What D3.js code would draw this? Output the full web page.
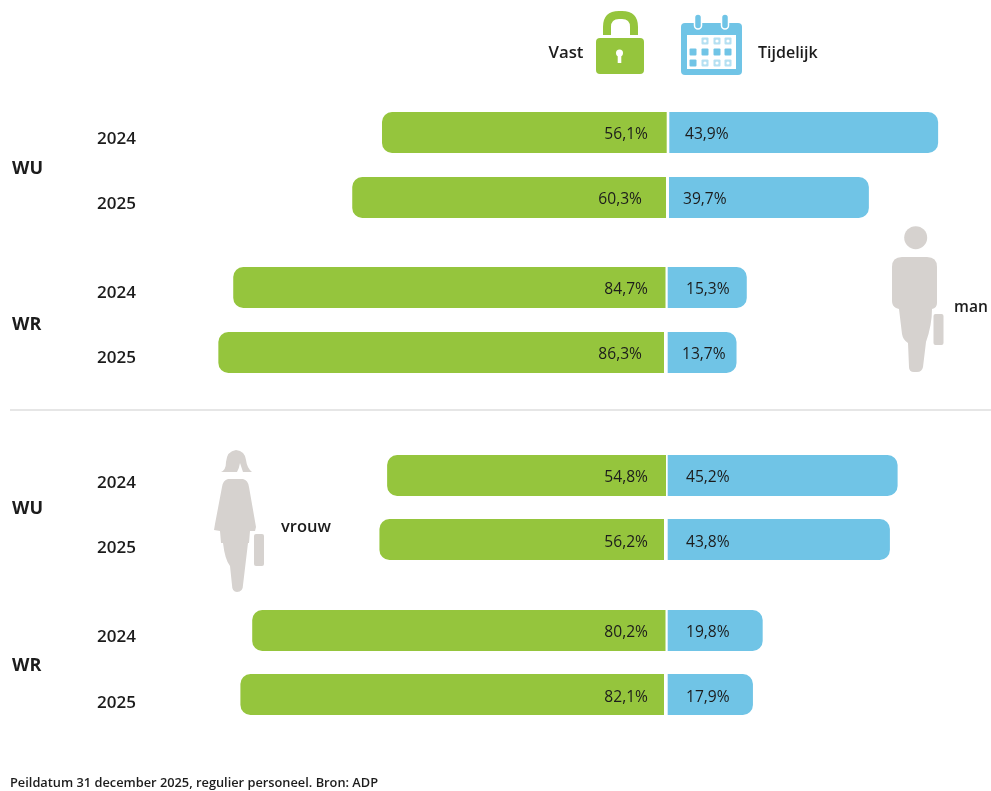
<!DOCTYPE html>
<html lang="nl">
<head>
<meta charset="utf-8">
<script src="https://cdn.jsdelivr.net/npm/d3@7"></script>
<style>
html,body{margin:0;padding:0;background:#fff;overflow:hidden}
svg{display:block;filter:blur(0.45px)}
text{font-family:"Open Sans","Noto Sans",sans-serif;fill:#1c1c1c}
</style>
</head>
<body>
<svg id="chart" width="991" height="791"></svg>
<script>
// Printed values
const rows = ["man-WU-2024","man-WU-2025","man-WR-2024","man-WR-2025","vrouw-WU-2024","vrouw-WU-2025","vrouw-WR-2024","vrouw-WR-2025"];
const years = ["2024","2025","2024","2025","2024","2025","2024","2025"];
const vastValues = [56.1,60.3,84.7,86.3,54.8,56.2,80.2,82.1];
const tijdelijkValues = [43.9,39.7,15.3,13.7,45.2,43.8,19.8,17.9];
// Bar lengths, in the same percent units; they differ
// from the printed values (the first blue bar is visibly longer than its 43,9%).
const vastLengths = [55.4,61.2,84.4,87.3,54.4,55.9,80.7,83.0];
const tijdelijkLengths = [52.5,39.0,15.2,13.2,44.6,43.1,18.3,16.4];
const groups = ["WU","WR","WU","WR"];
const footer = "Peildatum 31 december 2025, regulier personeel. Bron: ADP";

const svg = d3.select("#chart");
const GREEN="#95c53d", BLUE="#70c4e6", GREY="#d6d2cf";

const pxPerPct = 5.13, centre = 667.5, gap = 1.3;
const lenScale = d3.scaleLinear().domain([0,100]).range([0,100*pxPerPct]);
const rowTop = d3.scaleOrdinal().domain(rows).range([112,177,267,332,455,519,610,674]);
const yearBase = d3.scaleOrdinal().domain(rows).range([144,209,298,363,488,553,642,708]);
const labelBase = d3.scaleOrdinal().domain(rows).range([139,204,294,359,482,547,637,702]);
const seamGreen = d3.scaleOrdinal().domain(rows).range([666.7,666,665.5,664,666,664,665.5,664]);
const seamBlue = d3.scaleOrdinal().domain(rows).range([669.3,669,667.7,667.7,667.7,667.7,667.7,667.7]);
const vastLabelEnd = d3.scaleOrdinal().domain(rows).range([648,642,648,642,648,648,648,648]);
const tijdLabelStart = d3.scaleOrdinal().domain(rows).range([685,683,686,682,686,686,686,686]);
const barH = 41, r = 10;

// path with rounded corners only on the outer side
function outerRounded(x0,x1,y,h,side){
  const p=d3.path();
  if(side<0){
    p.moveTo(x1,y);p.lineTo(x0+r,y);p.arcTo(x0,y,x0,y+r,r);p.lineTo(x0,y+h-r);p.arcTo(x0,y+h,x0+r,y+h,r);p.lineTo(x1,y+h);
  }else{
    p.moveTo(x0,y);p.lineTo(x1-r,y);p.arcTo(x1,y,x1,y+r,r);p.lineTo(x1,y+h-r);p.arcTo(x1,y+h,x1-r,y+h,r);p.lineTo(x0,y+h);
  }
  p.closePath();return p.toString();
}

const data = rows.map((k,i)=>({k,year:years[i],vast:vastValues[i],tijd:tijdelijkValues[i],vl:vastLengths[i],tl:tijdelijkLengths[i]}));
const fmt = v => d3.format(".1f")(v).replace(".",",")+"%";

const g = svg.selectAll("g.row").data(data).join("g").attr("class","row");
g.append("path").attr("fill",GREEN).attr("d",d=>outerRounded(centre-gap-lenScale(d.vl),seamGreen(d.k),rowTop(d.k),barH,-1));
g.append("path").attr("fill",BLUE).attr("d",d=>outerRounded(seamBlue(d.k),centre+gap+lenScale(d.tl),rowTop(d.k),barH,1));
g.append("text").attr("x",d=>vastLabelEnd(d.k)).attr("y",d=>labelBase(d.k)).attr("text-anchor","end").attr("font-size",15.6).attr("font-weight",500).text(d=>fmt(d.vast));
g.append("text").attr("x",d=>tijdLabelStart(d.k)).attr("y",d=>labelBase(d.k)).attr("font-size",15.6).attr("font-weight",500).text(d=>fmt(d.tijd));
g.append("text").attr("x",97).attr("y",d=>yearBase(d.k)).attr("font-size",17).attr("font-weight",600).text(d=>d.year);

// Group labels
const groupY = d3.scaleOrdinal().domain([0,1,2,3]).range([174,330,514,671]);
svg.selectAll("text.grp").data(groups).join("text").attr("class","grp")
  .attr("x",12).attr("y",(d,i)=>groupY(i)).attr("font-size",18).attr("font-weight",700).text(d=>d);

// Separator
svg.append("line").attr("x1",10).attr("x2",991).attr("y1",410).attr("y2",410).attr("stroke","#e6e6e6").attr("stroke-width",2);

// Legend labels
svg.append("text").attr("x",548.5).attr("y",58).attr("font-size",16.8).attr("font-weight",600).text("Vast");
svg.append("text").attr("x",758).attr("y",58).attr("font-size",16).attr("font-weight",600).text("Tijdelijk");

// Lock icon
const lock = svg.append("g");
lock.append("path").attr("fill","none").attr("stroke",GREEN).attr("stroke-width",8)
  .attr("d","M607,35V27Q607,15 619,15H622Q634,15 634,27V35");
lock.append("rect").attr("x",596).attr("y",38).attr("width",48).attr("height",36).attr("rx",4).attr("fill",GREEN);
lock.append("circle").attr("cx",619.5).attr("cy",53).attr("r",3.5).attr("fill","#fff");
lock.append("rect").attr("x",617.7).attr("y",53).attr("width",3.6).attr("height",10).attr("fill","#fff");

// Calendar icon
const cal = svg.append("g");
cal.append("rect").attr("x",681).attr("y",23).attr("width",61).attr("height",52).attr("rx",4).attr("fill",BLUE);
cal.append("rect").attr("x",687).attr("y",35).attr("width",49).attr("height",34).attr("fill","#fff");
[698,725].forEach(x=>{
  cal.append("rect").attr("x",x-3.5).attr("y",14).attr("width",7).attr("height",15).attr("rx",3.5).attr("fill",BLUE).attr("stroke","#fff").attr("stroke-width",1.5);
});
const cols=[693,705,717,728], calRows=[41,52,63];
const cellFill=[[null,"#b5e0f2","#b5e0f2","#b5e0f2"],[BLUE,BLUE,BLUE,BLUE],[BLUE,"#b5e0f2","#b5e0f2","#b5e0f2"]];
calRows.forEach((y,ri)=>cols.forEach((x,ci)=>{
  const f=cellFill[ri][ci]; if(!f) return;
  cal.append("rect").attr("x",x-3.5).attr("y",y-3.5).attr("width",7).attr("height",7).attr("rx",1).attr("fill",f);
  if(f!==BLUE) cal.append("circle").attr("cx",x).attr("cy",y).attr("r",1.6).attr("fill","#fff");
}));

// Man figure
const man = svg.append("g").attr("fill",GREY);
man.append("circle").attr("cx",915.7).attr("cy",237.7).attr("r",11.5);
man.append("path").attr("d","M902,257H927Q937,257 937,267V303Q937,308 932,309L932,309Q932,325 926,342L923,367Q922,372 917,372H914Q909,372 909,367L908,343Q903,340 902,334L899,309L896,308Q892,306 892,301V267Q892,257 902,257Z");
man.append("rect").attr("x",933.5).attr("y",314).attr("width",10).attr("height",31).attr("rx",2);
svg.append("text").attr("x",954).attr("y",312).attr("font-size",15.6).attr("font-weight",600).text("man");

// Woman figure
const wom = svg.append("g").attr("fill",GREY);
wom.append("path").attr("d","M221,472Q226,470 226,462Q227,451 236,450Q245,451 246,460Q247,468 252,472H243Q241,466 240,463Q239,469 237,472Z");
wom.append("path").attr("d","M228,479H243Q248,480 249,487L256,527L255,531L250,531L249,543L248,543L243,585Q243,592 237,592Q232,592 232,585L230,566Q225,560 223,543H221L220,531L214,530L215,524L222,487Q223,480 228,479Z");
wom.append("rect").attr("x",254).attr("y",534).attr("width",10).attr("height",32).attr("rx",2);
svg.append("text").attr("x",281).attr("y",532).attr("font-size",16.5).attr("font-weight",600).text("vrouw");

// Footer
svg.append("text").attr("x",10).attr("y",787).attr("font-size",12.8).attr("font-weight",600).text(footer);
</script>
</body>
</html>
